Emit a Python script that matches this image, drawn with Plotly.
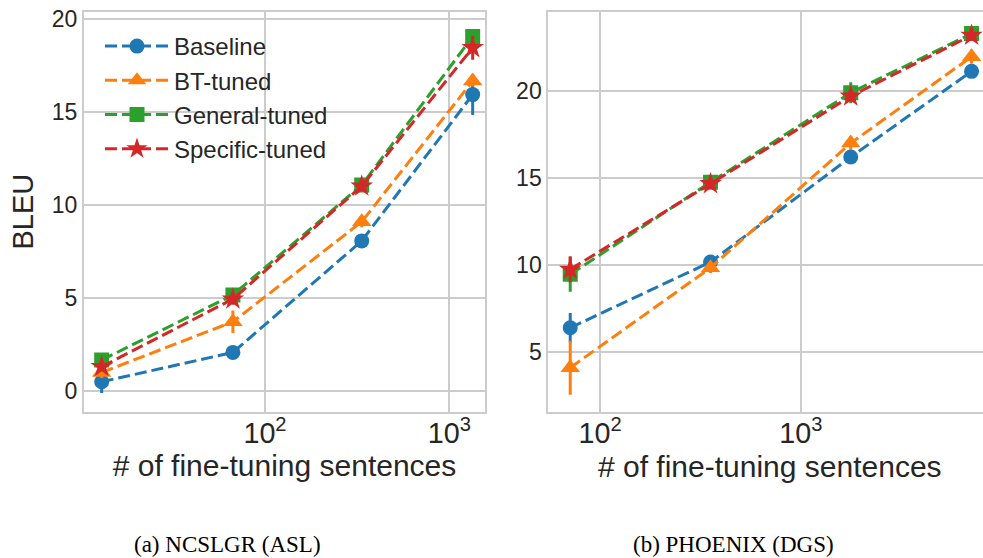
import plotly.graph_objects as go

# ---------------- data ----------------
series_names = ["Baseline", "BT-tuned", "General-tuned", "Specific-tuned"]

ncslgr_sizes = [13, 67, 335, 1340]
ncslgr_baseline = [0.48, 2.06, 8.06, 15.93]
ncslgr_baseline_err = [0.6, 0.15, 0.2, 1.1]
ncslgr_bt = [0.98, 3.71, 9.09, 16.66]
ncslgr_bt_err = [0.3, 0.6, 0.3, 0.3]
ncslgr_general = [1.65, 5.15, 11.06, 19.05]
ncslgr_general_err = [0.25, 0.3, 0.2, 0.3]
ncslgr_specific = [1.29, 4.93, 11.0, 18.45]
ncslgr_specific_err = [0.2, 0.3, 0.2, 0.65]

phoenix_sizes = [71, 355, 1774, 7096]
phoenix_baseline = [6.38, 10.16, 16.2, 21.13]
phoenix_baseline_err = [0.85, 0.3, 0.3, 0.35]
phoenix_bt = [4.08, 9.83, 17.0, 21.97]
phoenix_bt_err = [1.55, 0.3, 0.4, 0.4]
phoenix_general = [9.45, 14.75, 19.9, 23.3]
phoenix_general_err = [1.0, 0.3, 0.6, 0.3]
phoenix_specific = [9.74, 14.66, 19.7, 23.2]
phoenix_specific_err = [0.75, 0.3, 0.3, 0.3]

x_title = "# of fine-tuning sentences"
y_title = "BLEU"
captions = ["(a) NCSLGR (ASL)", "(b) PHOENIX (DGS)"]

# ---------------- style ----------------
colors = ["#1f77b4", "#ff7f0e", "#2ca02c", "#d62728"]
symbols = ["circle", "triangle-up", "square", "star"]
msizes = [15, 17, 15, 17]
W, H = 983, 558
TXT = "#262626"
GRID = "#cccccc"
SANS = "Liberation Sans, Arial, sans-serif"
SERIF = "Liberation Serif, Times New Roman, serif"

fig = go.Figure()

panels = [
    (ncslgr_sizes,
     [ncslgr_baseline, ncslgr_bt, ncslgr_general, ncslgr_specific],
     [ncslgr_baseline_err, ncslgr_bt_err, ncslgr_general_err, ncslgr_specific_err],
     "x", "y"),
    (phoenix_sizes,
     [phoenix_baseline, phoenix_bt, phoenix_general, phoenix_specific],
     [phoenix_baseline_err, phoenix_bt_err, phoenix_general_err, phoenix_specific_err],
     "x2", "y2"),
]

for pi, (xs, ys_list, errs_list, xa, ya) in enumerate(panels):
    for i, name in enumerate(series_names):
        fig.add_trace(go.Scatter(
            x=xs, y=ys_list[i], name=name, mode="lines+markers",
            xaxis=xa, yaxis=ya, showlegend=(pi == 0), legendgroup=name,
            line=dict(color=colors[i], width=3, dash="12px,5px"),
            marker=dict(symbol=symbols[i], size=msizes[i], color=colors[i],
                        line=dict(width=0)),
            error_y=dict(type="data", array=errs_list[i], visible=True,
                         color=colors[i], thickness=3, width=0),
        ))

axis_common = dict(
    showgrid=True, gridcolor=GRID, gridwidth=1.5,
    showline=True, linecolor=GRID, linewidth=2, mirror=True,
    zeroline=False, ticks="",
    tickfont=dict(family=SANS, size=23, color=TXT),
)

ydom = [1 - 411.7 / H, 1 - 11.7 / H]

fig.update_layout(
    width=W, height=H,
    margin=dict(l=0, r=0, t=0, b=0),
    paper_bgcolor="white", plot_bgcolor="white",
    xaxis=dict(type="log", domain=[84 / W, 485 / W], range=[1.018, 3.194],
               dtick=1, exponentformat="power", anchor="y", ticklabelstandoff=-4,
               title=dict(text=x_title, font=dict(family=SANS, size=30, color=TXT), standoff=0),
               automargin=False, **axis_common),
    yaxis=dict(domain=ydom, range=[-1.13, 20.39], dtick=5, anchor="x", ticklabelstandoff=0,
               title=dict(text=y_title, font=dict(family=SANS, size=29, color=TXT), standoff=10),
               automargin=False, **axis_common),
    xaxis2=dict(type="log", domain=[548.3 / W, 1.0], range=[1.742, 3.908],
                dtick=1, exponentformat="power", anchor="y2", ticklabelstandoff=-4,
                automargin=False, **axis_common),
    yaxis2=dict(domain=ydom, range=[1.55, 24.56], dtick=5, anchor="x2", ticklabelstandoff=0,
                automargin=False, **axis_common),
    legend=dict(x=100 / W, y=1 - 24 / H, xanchor="left", yanchor="top",
                bgcolor="rgba(0,0,0,0)", borderwidth=0,
                font=dict(family=SANS, size=24, color=TXT),
                itemwidth=64, tracegroupgap=0),
    showlegend=True,
)

# x-axis title of the right panel (its axis is cropped at the figure edge)
fig.add_annotation(text=x_title, x=770 / W, y=1 - 466 / H, xref="paper", yref="paper",
                   xanchor="center", yanchor="middle", showarrow=False,
                   font=dict(family=SANS, size=30, color=TXT))

for text, cx in zip(captions, [227.5, 733]):
    fig.add_annotation(text=text, x=cx / W, y=1 - 544 / H, xref="paper", yref="paper",
                       xanchor="center", yanchor="middle", showarrow=False,
                       font=dict(family=SERIF, size=23, color="black"))

fig.write_html("out.html", config={"displayModeBar": False},
               post_script="document.body.style.margin='0';document.body.style.overflow='hidden';")
